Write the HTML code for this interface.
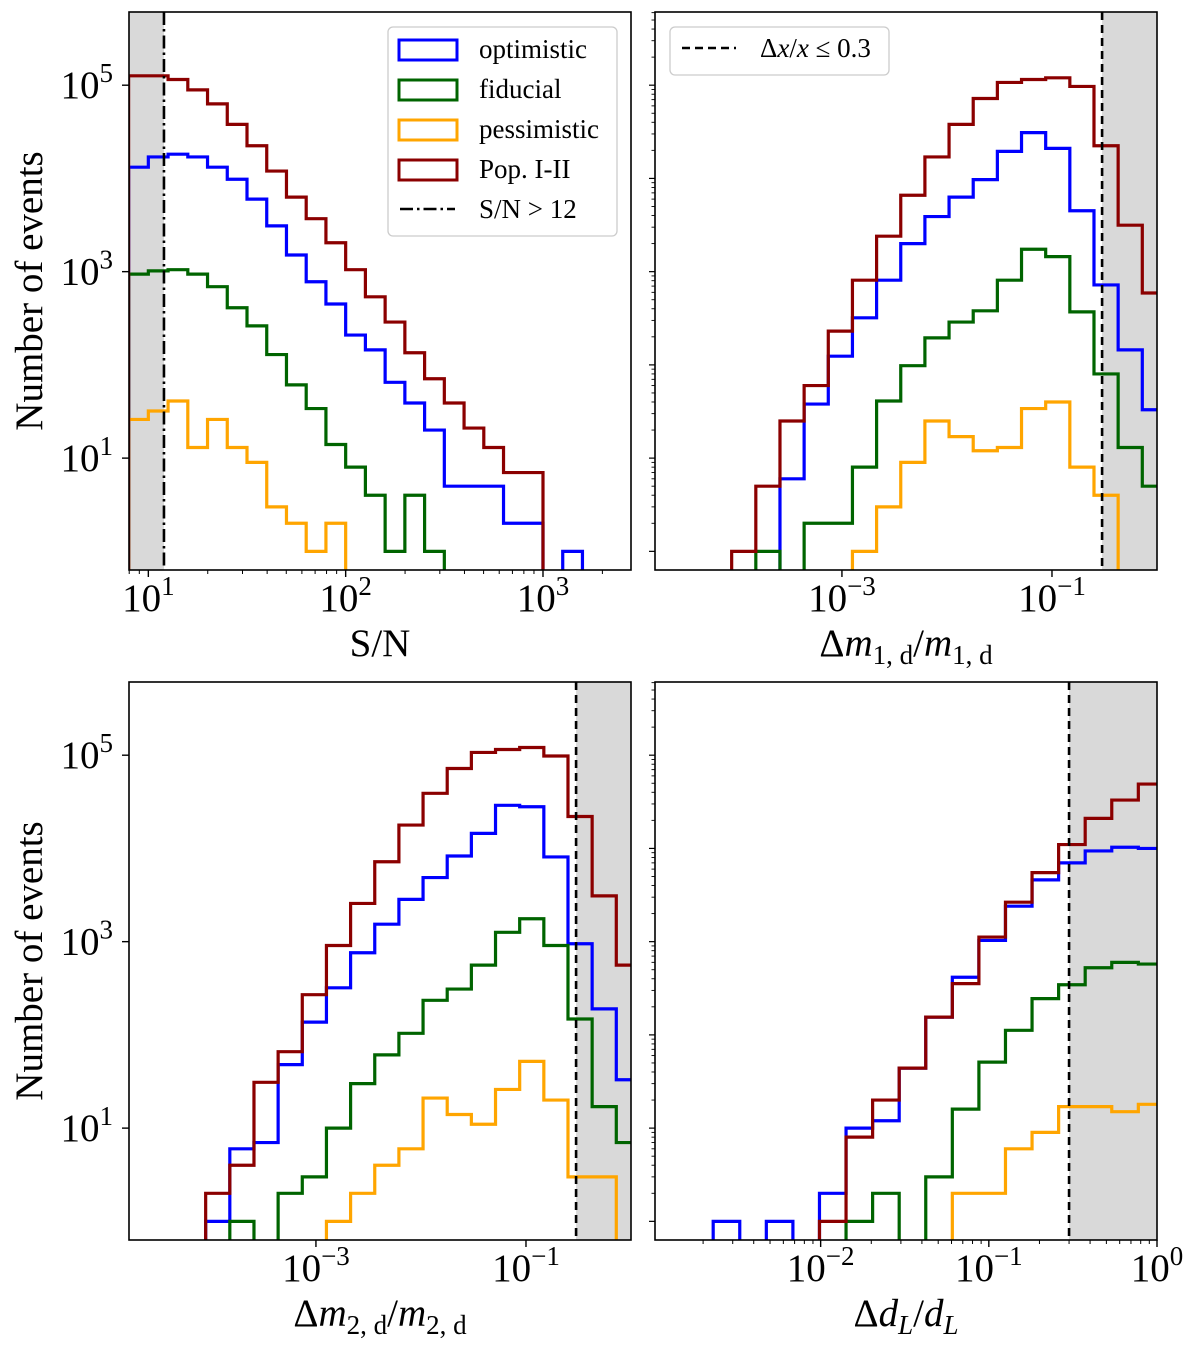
<!DOCTYPE html>
<html><head><meta charset="utf-8">
<style>
html,body{margin:0;padding:0;background:#fff;}
svg{display:block;font-family:"Liberation Serif","DejaVu Serif",serif;}
</style></head>
<body>
<svg id="fig" xmlns="http://www.w3.org/2000/svg" width="1200" height="1349" viewBox="0 0 1200 1349">
<defs>
<clipPath id="c1"><rect x="129" y="12" width="502" height="558"/></clipPath>
<clipPath id="c2"><rect x="655" y="12" width="502" height="558"/></clipPath>
<clipPath id="c3"><rect x="129" y="682" width="502" height="558"/></clipPath>
<clipPath id="c4"><rect x="655" y="682" width="502" height="558"/></clipPath>
</defs>
<g id="layer"></g>
</svg>
<script>
// ---- data (counts per log-spaced bin) ----
const seriesNames = ["optimistic","fiducial","pessimistic","Pop. I-II"];
const seriesColors = ["#0000ff","#006400","#ffa500","#8b0000"];

// Panel 1: S/N, log10 bin start and width
const snBinStart = 0.9;
const snBinWidth = 0.1;
const snOptimistic = [13200,17000,18200,17000,13200,9800,6000,3100,1510,780,450,209,145,65,39,20,5,5,5,2,2,0,1,0,0];
const snFiducial = [940,1020,1050,940,690,410,262,129,61,34,14,8,4,1,4,1,0,0,0,0,0,0,0,0,0];
const snPessimistic = [26,32,41,13,26,13,9,3,2,1,2,0,0,0,0,0,0,0,0,0,0,0,0,0,0];
const snPop = [126000,126000,115000,89000,63000,38000,22400,12000,6300,3700,2040,1050,537,288,135,71,39,21,13,7,7,0,0,0,0];

// Panel 2: Δm1/m1
const m1BinStart = -4.05;
const m1BinWidth = 0.23;
const m1Optimistic = [0,0,6,38,124,320,810,2000,3900,6300,9700,19500,31000,21000,4500,720,145,33];
const m1Fiducial = [0,1,0,2,2,8,41,98,195,288,380,810,1740,1450,370,80,13,5];
const m1Pessimistic = [0,0,0,0,0,1,3,9,25,17,12,13,34,40,8,4,0,0];
const m1Pop = [1,5,25,60,230,810,2400,6600,17000,38000,72000,107000,115000,120000,97000,22400,3150,590];

// Panel 3: Δm2/m2
const m2BinStart = -4.05;
const m2BinWidth = 0.23;
const m2Optimistic = [1,6,7,48,137,320,760,1540,2840,4870,8300,14500,29000,28000,8100,950,190,33];
const m2Fiducial = [0,1,0,2,3,10,30,61,104,235,310,560,1260,1760,910,148,17,7];
const m2Pessimistic = [0,0,0,0,0,1,2,4,6,21,14,11,26,52,20,3,3,0];
const m2Pop = [2,4,31,66,270,910,2570,7200,17800,39000,72000,107000,115000,121000,98000,22000,3100,560];

// Panel 4: ΔdL/dL
const dlBinStart = -2.639;
const dlBinWidth = 0.158;
const dlOptimistic = [1,0,1,0,2,10,12,44,155,415,1030,2400,4600,7000,9400,10300,10000];
const dlFiducial = [0,0,0,0,0,1,2,0,3,16,51,112,245,345,525,600,575];
const dlPessimistic = [0,0,0,0,0,0,0,0,0,2,2,6,9,17,17,15,18];
const dlPop = [0,0,0,0,1,8,20,44,155,355,1120,2650,5500,11000,21000,33000,49000];

const yTickLabelsLeft = [1,3,5];

// ---- rendering ----
const NS = "http://www.w3.org/2000/svg";
const layer = document.getElementById("layer");
function mk(tag, attrs, parent){
  const e = document.createElementNS(NS, tag);
  for (const k in attrs) e.setAttribute(k, attrs[k]);
  (parent||layer).appendChild(e);
  return e;
}
const Y_MIN = -0.2, Y_MAX = 5.785;

function panel(cfg){
  const {x0, x1, y0, y1, xmin, xmax, clip} = cfg;
  const g = mk("g", {});
  
  
  const X = v => x0 + (v - xmin) / (xmax - xmin) * (x1 - x0);
  const Y = c => c > 0 ? y1 - (Math.log10(c) - Y_MIN) / (Y_MAX - Y_MIN) * (y1 - y0) : y1 + 30;

  const sx0 = Math.max(x0, X(cfg.shade[0])), sx1 = Math.min(x1, X(cfg.shade[1]));
  const sh = mk("rect", {x: sx0, y: y0, width: sx1 - sx0, height: y1 - y0, fill: "#d9d9d9"}, g);
  
  

  [0,1,2,3].forEach(i => {
    const vals = cfg.series[i];
    let d = "M" + X(cfg.binStart) + "," + (y1 + 30);
    vals.forEach((c, k) => {
      const ea = X(cfg.binStart + k * cfg.binWidth), eb = X(cfg.binStart + (k + 1) * cfg.binWidth);
      const yy = Y(c);
      d += " L" + ea + "," + yy + " L" + eb + "," + yy;
    });
    d += " L" + X(cfg.binStart + vals.length * cfg.binWidth) + "," + (y1 + 30);
    const p = mk("path", {d: d, fill: "none", stroke: seriesColors[i], "stroke-width": 3.2, "clip-path": "url(#" + clip + ")", "stroke-linejoin": "miter"}, g);
    
    
  });

  const tx = X(cfg.thresh);
  const tl = mk("line", {x1: tx, x2: tx, y1: y0, y2: y1, stroke: "#000", "stroke-width": 2.6, "stroke-dasharray": cfg.dash}, g);
  
  

  const fr = mk("rect", {x: x0, y: y0, width: x1 - x0, height: y1 - y0, fill: "none", stroke: "#000", "stroke-width": 1.6}, g);
  
  

  for (let dec = Math.floor(xmin); dec <= Math.ceil(xmax); dec++) {
    const major = cfg.xMajor.includes(dec);
    if (major && dec >= xmin - 1e-6 && dec <= xmax + 1e-6) {
      const xx = X(dec);
      mk("line", {x1: xx, x2: xx, y1: y1, y2: y1 + 7, stroke: "#000", "stroke-width": 1.4}, g);
      const t = mk("text", {x: xx, y: y1 + 41, "font-size": 39, "text-anchor": "middle", fill: "#000"}, g);
      
      
      t.appendChild(document.createTextNode("10"));
      const s = mk("tspan", {dy: -16, "font-size": 27}, t);
      s.textContent = dec < 0 ? "\u2212" + (-dec) : String(dec);
    }
    if (cfg.xMinor) {
      for (let m = 2; m <= 9; m++) {
        const lv = dec + Math.log10(m);
        if (lv < xmin || lv > xmax) continue;
        const xx = X(lv);
        mk("line", {x1: xx, x2: xx, y1: y1, y2: y1 + 4, stroke: "#000", "stroke-width": 1}, g);
      }
    }
  }
  for (let dec = 0; dec <= 5; dec++) {
    const yy = Y(Math.pow(10, dec));
    if (cfg.yLabels) {
      if (yTickLabelsLeft.includes(dec)) {
        mk("line", {x1: x0 - 7, x2: x0, y1: yy, y2: yy, stroke: "#000", "stroke-width": 1.4}, g);
        const t = mk("text", {x: x0 - 16, y: yy + 13, "font-size": 39, "text-anchor": "end", fill: "#000"}, g);
        
        
        t.appendChild(document.createTextNode("10"));
        const s = mk("tspan", {dy: -16, "font-size": 27}, t);
        s.textContent = String(dec);
      }
    } else {
      mk("line", {x1: x0 - 6, x2: x0, y1: yy, y2: yy, stroke: "#000", "stroke-width": 1.2}, g);
      for (let m = 2; m <= 9; m++) {
        const ym = Y(m * Math.pow(10, dec));
        if (ym < y0) continue;
        mk("line", {x1: x0 - 3.5, x2: x0, y1: ym, y2: ym, stroke: "#000", "stroke-width": 0.9}, g);
      }
    }
  }
  return g;
}

panel({name:"panel-snr", x0:129, x1:631, y0:12, y1:570, xmin:0.902, xmax:3.446, clip:"c1",
  binStart:snBinStart, binWidth:snBinWidth, series:[snOptimistic,snFiducial,snPessimistic,snPop],
  shade:[0, Math.log10(12)], thresh:Math.log10(12), dash:"13,4,2.5,4", xMajor:[1,2,3], xMinor:true, yLabels:true});
panel({name:"panel-m1", x0:655, x1:1157, y0:12, y1:570, xmin:-4.78, xmax:0, clip:"c2",
  binStart:m1BinStart, binWidth:m1BinWidth, series:[m1Optimistic,m1Fiducial,m1Pessimistic,m1Pop],
  shade:[Math.log10(0.3), 1], thresh:Math.log10(0.3), dash:"8,5", xMajor:[-3,-1], xMinor:false, yLabels:false});
panel({name:"panel-m2", x0:129, x1:631, y0:682, y1:1240, xmin:-4.78, xmax:0, clip:"c3",
  binStart:m2BinStart, binWidth:m2BinWidth, series:[m2Optimistic,m2Fiducial,m2Pessimistic,m2Pop],
  shade:[Math.log10(0.3), 1], thresh:Math.log10(0.3), dash:"8,5", xMajor:[-3,-1], xMinor:false, yLabels:true});
panel({name:"panel-dl", x0:655, x1:1157, y0:682, y1:1240, xmin:-2.985, xmax:0, clip:"c4",
  binStart:dlBinStart, binWidth:dlBinWidth, series:[dlOptimistic,dlFiducial,dlPessimistic,dlPop],
  shade:[Math.log10(0.3), 1], thresh:Math.log10(0.3), dash:"8,5", xMajor:[-2,-1,0], xMinor:true, yLabels:false});

const lg = mk("g", {});


mk("rect", {x:388, y:27, width:229, height:209, rx:5, fill:"#fff", "fill-opacity":0.85, stroke:"#cccccc", "stroke-width":1.3}, lg);
const legendY = [50, 90, 130, 170];
seriesNames.forEach((n, i) => {
  const e = mk("g", {}, lg);
  
  
  mk("rect", {x:399, y:legendY[i] - 10, width:58, height:20, fill:"none", stroke:seriesColors[i], "stroke-width":3}, e);
  const t = mk("text", {x:479, y:legendY[i] + 8, "font-size":27, fill:"#000"}, e);
  t.textContent = n;
});
const e5 = mk("g", {}, lg);


mk("line", {x1:400, x2:455, y1:209, y2:209, stroke:"#000", "stroke-width":2.6, "stroke-dasharray":"13,4,2.5,4"}, e5);
const t5 = mk("text", {x:479, y:218, "font-size":27, fill:"#000"}, e5);
t5.textContent = "S/N > 12";

const lg2 = mk("g", {});


mk("rect", {x:670, y:27, width:219, height:48, rx:5, fill:"#fff", "fill-opacity":0.85, stroke:"#cccccc", "stroke-width":1.3}, lg2);
mk("line", {x1:682, x2:736, y1:48, y2:48, stroke:"#000", "stroke-width":2.6, "stroke-dasharray":"8,5"}, lg2);
</script>
<svg style="position:absolute;left:0;top:0" width="1200" height="1349" xmlns="http://www.w3.org/2000/svg" font-family="Liberation Serif, DejaVu Serif, serif">
<text x="760" y="57" font-size="27">Δ<tspan font-style="italic">x</tspan>/<tspan font-style="italic">x</tspan> ≤ 0.3</text>
<text transform="translate(42,291) rotate(-90)" text-anchor="middle" font-size="39">Number of events</text>
<text transform="translate(42,961) rotate(-90)" text-anchor="middle" font-size="39">Number of events</text>
<text x="380" y="656" text-anchor="middle" font-size="39">S/N</text>
<text x="906" y="656" text-anchor="middle" font-size="39">Δ<tspan font-style="italic">m</tspan><tspan font-size="27" dy="8">1, d</tspan><tspan dy="-8">/</tspan><tspan font-style="italic">m</tspan><tspan font-size="27" dy="8">1, d</tspan></text>
<text x="380" y="1326" text-anchor="middle" font-size="39">Δ<tspan font-style="italic">m</tspan><tspan font-size="27" dy="8">2, d</tspan><tspan dy="-8">/</tspan><tspan font-style="italic">m</tspan><tspan font-size="27" dy="8">2, d</tspan></text>
<text x="906" y="1326" text-anchor="middle" font-size="39">Δ<tspan font-style="italic">d</tspan><tspan font-size="27" dy="8" font-style="italic">L</tspan><tspan dy="-8">/</tspan><tspan font-style="italic">d</tspan><tspan font-size="27" dy="8" font-style="italic">L</tspan></text>
</svg>
</body></html>
